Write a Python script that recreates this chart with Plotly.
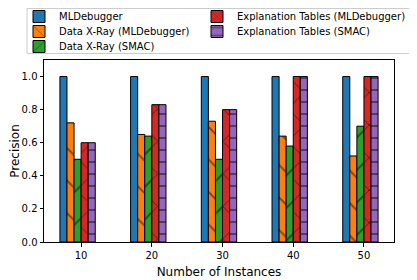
import plotly.graph_objects as go

instances = [10, 20, 30, 40, 50]
series_names = [
    "MLDebugger",
    "Data X-Ray (MLDebugger)",
    "Data X-Ray (SMAC)",
    "Explanation Tables (MLDebugger)",
    "Explanation Tables (SMAC)",
]
mldebugger = [1.0, 1.0, 1.0, 1.0, 1.0]
dxr_mld = [0.72, 0.65, 0.73, 0.64, 0.52]
dxr_smac = [0.50, 0.64, 0.50, 0.58, 0.70]
et_mld = [0.60, 0.83, 0.80, 1.0, 1.0]
et_smac = [0.60, 0.83, 0.80, 1.0, 1.0]
y_ticks = [0.0, 0.2, 0.4, 0.6, 0.8, 1.0]

series_values = [mldebugger, dxr_mld, dxr_smac, et_mld, et_smac]
colors = ["#1f77b4", "#ff7f0e", "#2ca02c", "#d62728", "#9467bd"]
patterns = ["", "\\", "/", "x", "-"]
pat_sizes = [10, 23, 23, 23, 12]
pat_solid = [0.1, 0.08, 0.08, 0.08, 0.15]
offsets = [-3, -2, -1, 0, 1]

# The page body adds an 8px margin, so the figure is drawn 8px in from the
# window's top-left corner; target positions below are in window pixels.
BODY = 8
W, H = 417 - BODY, 280 - BODY
ML, MR, MT, MB = 36, 23, 52, 38
PW, PH = W - ML - MR, H - MT - MB


def px_x(px):  # window pixel -> paper x
    return (px - BODY - ML) / PW


def px_y(py):  # window pixel -> paper y
    return (H - MB - (py - BODY)) / PH


# legend grid: two columns (matplotlib ncol=2 fills column by column)
legend_cols = [0, 0, 0, 1, 1]
legend_rows = [0, 1, 2, 0, 1]
col_text_x = [59, 237]
row_center_y = [15, 30, 45]

fig = go.Figure()
legend_layout = {}
for i, name in enumerate(series_names):
    key = "legend" if i == 0 else f"legend{i + 1}"
    fig.add_trace(go.Bar(
        name=name,
        x=instances,
        y=series_values[i],
        width=1,
        offset=offsets[i],
        legend=key,
        marker=dict(
            color=colors[i],
            line=dict(color="black", width=1),
            pattern=dict(shape=patterns[i], fgcolor="black", bgcolor=colors[i],
                         size=pat_sizes[i], solidity=pat_solid[i], fillmode="overlay"),
        ),
    ))
    legend_layout[key] = dict(
        orientation="v", xref="paper", yref="paper",
        x=px_x(col_text_x[legend_cols[i]] - 40), xanchor="left",
        y=px_y(row_center_y[legend_rows[i]] - 13), yanchor="top",
        borderwidth=0, bgcolor="rgba(0,0,0,0)",
        font=dict(size=10),
    )

fig.update_layout(
    width=W, height=H,
    barmode="overlay",
    margin=dict(l=ML, r=MR, t=MT, b=MB, pad=0, autoexpand=False),
    plot_bgcolor="white", paper_bgcolor="white",
    font=dict(family="DejaVu Sans", size=10, color="black"),
    showlegend=True,
    shapes=[dict(
        type="rect", xref="paper", yref="paper",
        x0=px_x(27), x1=px_x(411), y0=px_y(53.5), y1=px_y(8.5),
        line=dict(color="#cccccc", width=1), fillcolor="rgba(255,255,255,0.8)",
        layer="above",
    )],
    xaxis=dict(
        range=[4.75, 54.25], tickvals=instances, ticktext=[str(v) for v in instances],
        showline=True, linecolor="black", linewidth=1, mirror=True,
        ticks="outside", ticklen=3.5, tickcolor="black", showgrid=False, zeroline=False,
        title=dict(text="Number of Instances", standoff=8), automargin=False,
    ),
    yaxis=dict(
        range=[0, 1.1], tickvals=y_ticks, tickformat=".1f",
        showline=True, linecolor="black", linewidth=1, mirror=True,
        ticks="outside", ticklen=3.5, tickcolor="black", showgrid=False, zeroline=False,
        title=dict(text="Precision", standoff=2), automargin=False,
    ),
    **legend_layout,
)

fig.write_html("out.html")
